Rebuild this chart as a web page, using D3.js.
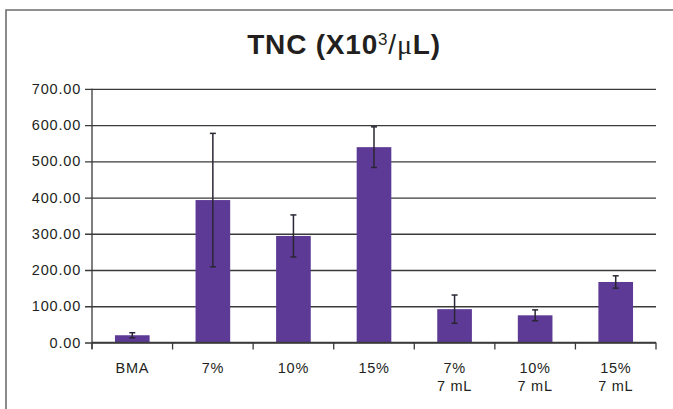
<!DOCTYPE html>
<html>
<head>
<meta charset="utf-8">
<script src="https://d3js.org/d3.v7.min.js"></script>
<style>
  html, body { margin: 0; padding: 0; background: #fff; }
  svg { display: block; }
</style>
</head>
<body>
<script>
const categories = ["BMA", "7%", "10%", "15%", "7%\n7 mL", "10%\n7 mL", "15%\n7 mL"];
const values = [20, 393, 294, 539, 92, 75, 167];
const errors = [7, 184, 58, 56, 39, 15, 17];
const yTicks = [0, 100, 200, 300, 400, 500, 600, 700];

const W = 673, H = 409;
const svg = d3.select("body").append("svg").attr("width", W).attr("height", H);

// frame (top and left edges)
svg.append("path").attr("d", "M6,409 V10 H673").attr("fill", "none")
  .attr("stroke", "#6e6e6e").attr("stroke-width", 1.6);

// title
const title = svg.append("text").attr("x", 344).attr("y", 54).attr("text-anchor", "middle")
  .attr("font-family", "Liberation Sans, Arial, sans-serif").attr("font-weight", "bold")
  .attr("font-size", 28).attr("letter-spacing", 0.8).attr("fill", "#231f20");
title.append("tspan").text("TNC (X10");
title.append("tspan").text("3").attr("font-size", 17).attr("dy", -9).attr("font-weight", "normal");
title.append("tspan").text("/").attr("dy", 9).attr("font-weight", "normal");
title.append("tspan").text("μ").attr("font-family", "Liberation Serif, serif").attr("font-weight", "normal");
title.append("tspan").text("L)");

const x = d3.scaleBand().domain(categories).range([92, 656]).paddingInner(0.57).paddingOuter(0.285);
const y = d3.scaleLinear().domain([0, 700]).range([342.5, 88.8]);

// y axis with gridlines
const yAxis = svg.append("g").attr("transform", "translate(92,0)")
  .call(d3.axisLeft(y).tickValues(yTicks).tickSize(7).tickFormat(d3.format(".2f")));
yAxis.select(".domain").remove();
yAxis.selectAll(".tick line").attr("x1", -7).attr("x2", 564).attr("stroke", "#3a3a3a").attr("stroke-width", 1.3);
yAxis.selectAll(".tick text").attr("x", -11)
  .attr("font-family", "Liberation Sans, Arial, sans-serif").attr("font-size", 14.5)
  .attr("letter-spacing", 0.8).attr("fill", "#231f20");

// vertical axis line
svg.append("line").attr("x1", 92).attr("x2", 92).attr("y1", y(700)).attr("y2", 349)
  .attr("stroke", "#3a3a3a").attr("stroke-width", 1.3);

// bars
svg.append("g").selectAll("rect").data(values).join("rect")
  .attr("x", (d, i) => x(categories[i]))
  .attr("width", x.bandwidth())
  .attr("y", d => y(d))
  .attr("height", d => y(0) - y(d))
  .attr("fill", "#5c3a95");

// x axis
const xAxis = svg.append("g").attr("transform", `translate(0,${y(0)})`);
xAxis.append("line").attr("x1", 92).attr("x2", 656).attr("stroke", "#3a3a3a").attr("stroke-width", 1.3);
const step = x.step();
const bounds = [92].concat(categories.map(c => x(c) + x.bandwidth() / 2 + step / 2));
xAxis.selectAll("line.tk").data(bounds).join("line").attr("class", "tk")
  .attr("x1", d => d).attr("x2", d => d).attr("y1", 0).attr("y2", 7)
  .attr("stroke", "#3a3a3a").attr("stroke-width", 1.3);
const lbl = xAxis.selectAll("text").data(categories).join("text")
  .attr("text-anchor", "middle")
  .attr("font-family", "Liberation Sans, Arial, sans-serif").attr("font-size", 14.5)
  .attr("letter-spacing", 0.7).attr("fill", "#231f20");
lbl.each(function (c) {
  const t = d3.select(this);
  c.split("\n").forEach((line, k) => {
    t.append("tspan").attr("x", x(c) + x.bandwidth() / 2).attr("y", 30 + k * 18).text(line);
  });
});

// error bars
const eb = svg.append("g").attr("stroke", "#2b2633").attr("stroke-width", 1.5);
values.forEach((v, i) => {
  const cx = x(categories[i]) + x.bandwidth() / 2;
  const lo = y(v - errors[i]), hi = y(v + errors[i]);
  eb.append("line").attr("x1", cx).attr("x2", cx).attr("y1", lo).attr("y2", hi);
  eb.append("line").attr("x1", cx - 3).attr("x2", cx + 3).attr("y1", lo).attr("y2", lo);
  eb.append("line").attr("x1", cx - 3).attr("x2", cx + 3).attr("y1", hi).attr("y2", hi);
});
</script>
</body>
</html>
